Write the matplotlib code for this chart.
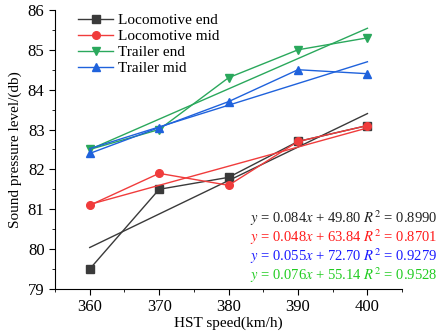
import matplotlib
matplotlib.use('Agg')
import matplotlib.pyplot as plt
from matplotlib.ticker import MultipleLocator
import numpy as np

plt.rcParams['font.family'] = ['Liberation Serif', 'DejaVu Serif']
plt.rcParams['mathtext.fontset'] = 'stix'

# speeds (km/h) and measured sound pressure levels
speed = [360, 370, 380, 390, 400]
loco_end = [79.5, 81.5, 81.8, 82.7, 83.1]
loco_mid = [81.1, 81.9, 81.6, 82.7, 83.1]
trailer_end = [82.5, 83.0, 84.3, 85.0, 85.3]
trailer_mid = [82.4, 83.05, 83.7, 84.5, 84.4]

names = ['Locomotive end', 'Locomotive mid', 'Trailer end', 'Trailer mid']
colors = ['#3a3a3a', '#f03c3c', '#2aa85c', '#1f62dc']
markers = ['s', 'o', 'v', '^']
fit_labels = [
    '$y$ = 0.084$x$ + 49.80 $R^2$ = 0.8990',
    '$y$ = 0.048$x$ + 63.84 $R^2$ = 0.8701',
    '$y$ = 0.055$x$ + 72.70 $R^2$ = 0.9279',
    '$y$ = 0.076$x$ + 55.14 $R^2$ = 0.9528',
]
fit_colors = ['#222222', '#ff1a1a', '#1a1aff', '#22cc22']

fig = plt.figure(figsize=(4.4, 3.31), dpi=100)
ax = fig.add_axes([0.125, 0.127, 0.789, 0.843])

series = [loco_end, loco_mid, trailer_end, trailer_mid]
for vals, name, c, m in zip(series, names, colors, markers):
    ax.plot(speed, vals, '-', color=c, marker=m, markersize=5.5, lw=1.0, label=name)
    # linear fit line
    k, b = np.polyfit(speed, vals, 1)
    xs = np.array([speed[0], speed[-1]])
    ax.plot(xs, k * xs + b, '-', color=c, lw=1.0)

ax.set_xlim(355, 405)
ax.set_ylim(79, 86)
ax.xaxis.set_major_locator(MultipleLocator(10))
ax.xaxis.set_minor_locator(MultipleLocator(5))
ax.yaxis.set_major_locator(MultipleLocator(1))
ax.yaxis.set_minor_locator(MultipleLocator(0.5))
ax.spines['top'].set_visible(False)
ax.spines['right'].set_visible(False)
ax.tick_params(axis='both', which='major', labelsize=12, direction='out', length=4)
ax.tick_params(axis='both', which='minor', direction='out', length=2.5)

ax.set_xlabel('HST speed(km/h)', fontsize=11, labelpad=1)
ax.set_ylabel('Sound pressure level/(db)', fontsize=11, labelpad=4)

ax.legend(loc='upper left', bbox_to_anchor=(0.04, 1.02), frameon=False, fontsize=11,
          handlelength=2.3, handletextpad=0.3, labelspacing=0.15, borderaxespad=0.2)

ys = [218, 237, 256, 275]
for lab, c, yp in zip(fit_labels, fit_colors, ys):
    fig.text(437 / 440, 1 - yp / 331, lab, color=c, fontsize=10.5, ha='right', va='center')

fig.savefig('out.png', dpi=100)
